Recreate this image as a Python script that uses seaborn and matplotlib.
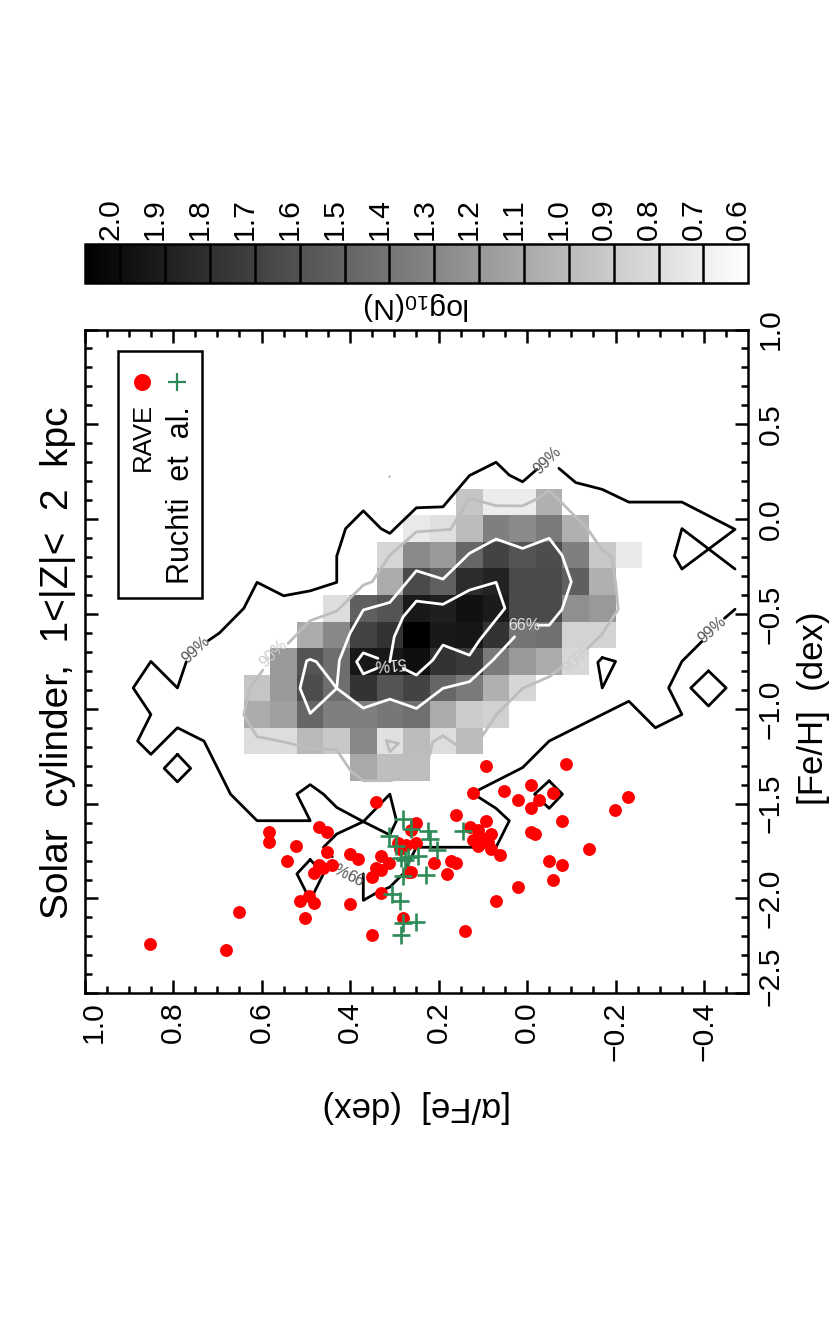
import numpy as np
import pandas as pd
import seaborn as sns
import matplotlib.pyplot as plt
from matplotlib.cm import ScalarMappable
from matplotlib.colors import Normalize
from matplotlib.patches import Rectangle

# log10(N) per bin, rows from high to low [Fe/H], columns from high to low [alpha/Fe]
alpha_edges = [0.64, -0.26]
feh_edges = [-1.38, 0.16]
n = np.nan
log_n = [
    [n, n, n, n, n, n, n, n, 0.94, 0.71, 0.71, 1.06, n, n, n],
    [n, n, n, n, n, n, 0.73, 0.79, 0.99, 1.34, 1.28, 1.37, 1.06, n, n],
    [n, n, n, n, n, 0.84, 1.28, 1.19, 1.49, 1.69, 1.59, 1.63, 1.34, 0.92, 0.73],
    [n, n, n, n, n, 1.09, 1.65, 1.52, 1.82, 1.88, 1.65, 1.65, 1.53, 1.06, n],
    [n, n, n, 0.80, 1.53, 1.59, 1.93, 1.90, 1.98, 1.92, 1.65, 1.65, 1.25, 1.19, n],
    [n, n, 1.09, 1.29, 1.69, 1.78, 2.08, 1.93, 1.95, 1.78, 1.40, 1.43, 0.86, 0.86, n],
    [n, 1.19, 1.59, 1.44, 1.94, 1.94, 1.99, 1.78, 1.74, 1.37, 1.19, 1.09, 0.83, n, n],
    [0.94, 1.19, 1.63, 1.44, 1.78, 1.59, 1.69, 1.49, 1.37, 1.06, 0.84, n, n, n, n],
    [1.09, 1.15, 1.49, 1.34, 1.34, 1.39, 1.43, 1.09, 0.90, 0.87, n, n, n, n, n],
    [0.80, 0.80, 1.01, 0.92, 1.29, 0.78, 0.99, 0.80, 0.99, n, n, n, n, n, n],
    [n, n, n, n, 1.10, 0.98, 0.98, n, n, n, n, n, n, n, n],
]

rave_alpha = [0.851, 0.681, 0.651, 0.582, 0.582, 0.522, 0.542, 0.471, 0.452, 0.452, 0.471, 0.461, 0.482,
              0.441, 0.512, 0.492, 0.482, 0.501, 0.401, 0.381, 0.401, 0.351, 0.341, 0.331, 0.311, 0.331,
              0.341, 0.351, 0.331, 0.281, 0.141, 0.292, 0.288, 0.273, 0.250, 0.262, 0.268, 0.211, 0.180,
              0.171, 0.160, 0.250, 0.262, 0.160, 0.092, -0.089, -0.009, 0.051, -0.058, 0.121, 0.021,
              -0.028, -0.009, -0.199, -0.229, 0.092, -0.079, 0.130, 0.111, -0.009, -0.019, 0.081, 0.122,
              0.107, 0.096, 0.111, 0.089, 0.081, 0.061, -0.139, -0.049, -0.079, -0.058, 0.021, 0.071]
rave_feh = [-2.242, -2.272, -2.073, -1.651, -1.701, -1.724, -1.801, -1.622, -1.651, -1.754, -1.824, -1.841, -1.864,
            -1.824, -2.013, -1.987, -2.022, -2.101, -1.764, -1.792, -2.031, -2.193, -1.493, -1.775, -1.812, -1.850,
            -1.841, -1.885, -1.973, -2.101, -2.172, -1.709, -1.739, -1.718, -1.709, -1.862, -1.861, -1.812, -1.873,
            -1.801, -1.812, -1.601, -1.641, -1.560, -1.302, -1.293, -1.402, -1.432, -1.443, -1.443, -1.481,
            -1.481, -1.525, -1.534, -1.464, -1.592, -1.592, -1.622, -1.639, -1.651, -1.662, -1.662, -1.692,
            -1.675, -1.687, -1.724, -1.701, -1.741, -1.771, -1.741, -1.801, -1.824, -1.903, -1.941, -2.012]

ruchti_alpha = [0.281, 0.262, 0.223, 0.220, 0.203, 0.145, 0.312, 0.296, 0.285, 0.268, 0.246, 0.275, 0.228, 0.281,
                0.306, 0.287, 0.281, 0.251, 0.285]
ruchti_feh = [-1.583, -1.634, -1.644, -1.689, -1.742, -1.643, -1.671, -1.724, -1.787, -1.782, -1.774, -1.797,
              -1.874, -1.882, -1.977, -2.012, -2.129, -2.123, -2.193]

# contour pieces as (alpha, feh), broken where a label sits
black_contours = [
    [(-0.022, 0.262), (0.01, 0.197), (0.04, 0.232), (0.07, 0.30), (0.13, 0.23), (0.19, 0.065), (0.25, 0.06),
     (0.31, -0.075), (0.33, -0.05), (0.37, 0.044), (0.41, -0.05), (0.43, -0.195), (0.43, -0.333), (0.49, -0.378),
     (0.55, -0.404), (0.61, -0.333), (0.64, -0.47), (0.695, -0.60), (0.72, -0.64)],
    [(0.77, -0.752), (0.79, -0.89), (0.85, -0.75), (0.89, -0.89), (0.85, -1.03), (0.88, -1.17), (0.85, -1.24),
     (0.79, -1.10), (0.73, -1.17), (0.67, -1.45), (0.61, -1.59), (0.49, -1.59), (0.52, -1.45), (0.49, -1.40),
     (0.46, -1.45), (0.43, -1.52), (0.37, -1.595), (0.31, -1.665), (0.295, -1.59), (0.31, -1.45), (0.37, -1.595),
     (0.43, -1.66), (0.46, -1.73), (0.44, -1.78)],
    [(0.37, -1.87), (0.37, -2.01), (0.34, -1.97), (0.31, -1.94), (0.28, -1.87), (0.25, -1.73), (0.07, -1.73),
     (0.04, -1.59), (0.07, -1.525), (0.12, -1.45), (0.107, -1.425), (0.01, -1.31), (-0.05, -1.17), (-0.23, -0.96),
     (-0.29, -1.10), (-0.35, -1.03), (-0.32, -0.89), (-0.35, -0.75), (-0.395, -0.645)],
    [(-0.446, -0.523), (-0.47, -0.475)],
    [(-0.47, -0.263), (-0.35, -0.05), (-0.333, -0.193), (-0.35, -0.263), (-0.47, -0.054), (-0.35, 0.09),
     (-0.23, 0.09), (-0.17, 0.157), (-0.11, 0.193), (-0.072, 0.268)],
    [(0.79, -1.24), (0.76, -1.314), (0.79, -1.385), (0.82, -1.314), (0.79, -1.24)],
    [(-0.41, -0.80), (-0.45, -0.89), (-0.41, -0.985), (-0.37, -0.89), (-0.41, -0.80)],
    [(-0.05, -1.38), (-0.08, -1.45), (-0.05, -1.525), (-0.017, -1.45), (-0.05, -1.38)],
    [(-0.17, -0.73), (-0.20, -0.75), (-0.17, -0.89), (-0.16, -0.755), (-0.17, -0.73)],
    [(0.49, -1.795), (0.52, -1.87), (0.49, -2.01), (0.46, -1.87), (0.49, -1.795)],
]
grey_contours = [
    [(0.54, -0.655), (0.49, -0.535), (0.43, -0.485), (0.37, -0.348), (0.35, -0.33), (0.31, -0.19), (0.25, -0.067),
     (0.173, -0.054), (0.13, 0.11), (0.07, 0.071), (0.01, 0.07), (-0.02, 0.104), (-0.05, 0.15), (-0.08, 0.083),
     (-0.137, -0.052), (-0.17, -0.163), (-0.19, -0.195), (-0.20, -0.33), (-0.206, -0.476), (-0.168, -0.611),
     (-0.137, -0.681)],
    [(-0.08, -0.778), (-0.05, -0.831), (0.01, -0.892), (0.07, -1.033), (0.107, -1.165), (0.126, -1.217),
     (0.16, -1.19), (0.19, -1.142), (0.213, -1.174), (0.224, -1.279), (0.25, -1.349), (0.31, -1.379), (0.37, -1.379),
     (0.397, -1.332), (0.43, -1.217), (0.49, -1.209), (0.55, -1.174), (0.61, -1.147), (0.64, -1.033), (0.627, -0.892),
     (0.597, -0.796)],
    [(0.318, -1.168), (0.29, -1.182), (0.31, -1.226), (0.318, -1.168)],
]
white_contours = [
    [(0.028, -0.62), (0.077, -0.743), (0.13, -0.857), (0.19, -0.892), (0.25, -0.998), (0.31, -0.949), (0.37, -0.996),
     (0.43, -0.892), (0.49, -1.024), (0.513, -0.892), (0.498, -0.747), (0.49, -0.739), (0.476, -0.752), (0.43, -0.892),
     (0.424, -0.743), (0.40, -0.602), (0.37, -0.479), (0.31, -0.439), (0.25, -0.272), (0.19, -0.316), (0.13, -0.18),
     (0.07, -0.105), (0.01, -0.154), (-0.05, -0.101), (-0.079, -0.19), (-0.10, -0.33), (-0.079, -0.476), (-0.05, -0.559),
     (-0.024, -0.559)],
    [(0.31, -0.752), (0.30, -0.62), (0.28, -0.515), (0.25, -0.432), (0.19, -0.449), (0.13, -0.374), (0.07, -0.333),
     (0.05, -0.47), (0.107, -0.637), (0.13, -0.717), (0.19, -0.664), (0.213, -0.743), (0.25, -0.822), (0.28, -0.787)],
    [(0.337, -0.734), (0.37, -0.705), (0.385, -0.752), (0.37, -0.816), (0.34, -0.787)],
]
contour_labels = [
    (0.748, -0.69, '99%', 43, '#555555'), (-0.046, 0.31, '99%', 45, '#555555'), (-0.419, -0.585, '99%', 42, '#555555'),
    (0.40, -1.854, '99%', 154, '#555555'), (0.574, -0.706, '90%', 45, '#cccccc'), (-0.111, -0.74, '90%', 45, '#cccccc'),
    (0.006, -0.559, '66%', 0, '#e0e0e0'), (0.31, -0.759, '51%', 185, '#e8e8e8'),
]

alpha_ticks = [1.0, 0.8, 0.6, 0.4, 0.2, 0.0, -0.2, -0.4]
feh_ticks = [-2.5, -2.0, -1.5, -1.0, -0.5, 0.0, 0.5, 1.0]
cbar_ticks = [2.0, 1.9, 1.8, 1.7, 1.6, 1.5, 1.4, 1.3, 1.2, 1.1, 1.0, 0.9, 0.8, 0.7, 0.6]

sns.set_theme(style="ticks", rc={"text.color": "black", "axes.edgecolor": "black", "xtick.color": "black",
                                 "ytick.color": "black", "axes.linewidth": 1.8})
plt.rcParams['font.family'] = ['Liberation Sans', 'DejaVu Sans']
plt.rcParams['mathtext.default'] = 'regular'

W, H = 830, 1329
fig = plt.figure(figsize=(W / 100, H / 100), dpi=100, facecolor='white')
ax = fig.add_axes([84.5 / W, 1 - 993.3 / H, 663.8 / W, 663.8 / H])
ax.set_xlim(1.0, -0.5)
ax.set_ylim(-2.5, 1.0)
ax.autoscale(False)

# density grid in its own box so that seaborn can keep its cell layout
hm_ax = ax.inset_axes([(1.0 - alpha_edges[0]) / 1.5, (feh_edges[0] + 2.5) / 3.5,
                       (alpha_edges[0] - alpha_edges[1]) / 1.5, (feh_edges[1] - feh_edges[0]) / 3.5], zorder=0)
sns.heatmap(pd.DataFrame(log_n), ax=hm_ax, cmap='gray_r', vmin=0.6, vmax=2.08, cbar=False,
            xticklabels=False, yticklabels=False)
hm_ax.set_axis_off()

for seg in grey_contours:
    xs, ys = zip(*seg)
    sns.lineplot(x=list(xs), y=list(ys), sort=False, estimator=None, color='#bdbdbd', lw=2.0, ax=ax, zorder=2)
for seg in black_contours:
    xs, ys = zip(*seg)
    sns.lineplot(x=list(xs), y=list(ys), sort=False, estimator=None, color='black', lw=2.0, ax=ax, zorder=2)
for seg in white_contours:
    xs, ys = zip(*seg)
    sns.lineplot(x=list(xs), y=list(ys), sort=False, estimator=None, color='white', lw=2.0, ax=ax, zorder=2)
for a, f, s, rot, col in contour_labels:
    ax.text(a, f, s, rotation=rot, color=col, fontsize=11.5, ha='center', va='center', rotation_mode='anchor', zorder=3)

sns.scatterplot(x=rave_alpha, y=rave_feh, color='red', s=86, linewidth=0, ax=ax, zorder=4)
sns.scatterplot(x=ruchti_alpha, y=ruchti_feh, color='seagreen', marker='+', s=165, linewidth=1.9, ax=ax, zorder=5)
ax.scatter([0.311], [0.227], s=2, color='#999999', linewidth=0)

# legend box, rotated with the rest of the page
ax.add_patch(Rectangle((0.735, -0.417), 0.19, 1.306, fc='none', ec='black', lw=1.8, zorder=6))
ax.scatter([0.869], [0.722], s=150, color='red', linewidth=0, zorder=6)
ax.scatter([0.792], [0.722], s=165, color='seagreen', marker='+', linewidth=1.6, zorder=6)
ax.text(0.869, 0.615, 'RAVE', rotation=90, ha='center', va='top', fontsize=18.5, zorder=6)
ax.text(0.783, 0.595, 'Ruchti  et  al.', rotation=90, ha='center', va='top', fontsize=22, zorder=6)

ax.set_xticks(alpha_ticks)
ax.set_yticks(feh_ticks)
ax.set_xticks([v / 100 for v in range(-45, 100, 5)], minor=True)
ax.set_yticks([v / 10 for v in range(-24, 10)], minor=True)
ax.tick_params(which='both', direction='in', top=True, right=True, labelbottom=False, labelleft=False, width=1.8)
ax.tick_params(which='major', length=9.4)
ax.tick_params(which='minor', length=4.7)
for spine in ax.spines.values():
    spine.set_visible(True)
    spine.set_linewidth(1.8)

for v in alpha_ticks:
    label = f'{v:.1f}'.replace('-', '\u2212')
    dx = 7 if v == 1.0 else 0
    ax.annotate(label, (v, 0), xycoords=('data', 'axes fraction'), xytext=(dx, -6), textcoords='offset points',
                rotation=90, ha='center', va='top', fontsize=21.7)
for v in feh_ticks:
    label = f'{v:.1f}'.replace('-', '\u2212')
    dy = 12 if v == -2.5 else 0
    ax.annotate(label, (1, v), xycoords=('axes fraction', 'data'), xytext=(6, dy), textcoords='offset points',
                rotation=90, ha='left', va='center', fontsize=21.7)

fig.text(417 / W, 1 - 1107 / H, '[\u03b1/Fe]  (dex)', rotation=180, ha='center', va='center', fontsize=25)
fig.text(813 / W, 1 - 708 / H, '[Fe/H]  (dex)', rotation=90, ha='center', va='center', fontsize=25)
fig.text(58 / W, 1 - 663 / H, 'Solar  cylinder,  1<|Z|<  2  kpc', rotation=90, ha='center', va='center', fontsize=28)

# colour bar
cax = fig.add_axes([84.5 / W, 1 - 282.7 / H, 663.8 / W, 39.2 / H])
cb = fig.colorbar(ScalarMappable(Normalize(0.6, 2.08), 'gray_r'), cax=cax, orientation='horizontal')
cb.set_ticks([])
cax.set_xlim(2.08, 0.6)
cax.minorticks_off()
cax.vlines(cbar_ticks[:-1], 0, 1, transform=cax.get_xaxis_transform(), color='black', lw=1.8)
cb.outline.set_linewidth(1.8)
cb.outline.set_edgecolor('black')
for v in cbar_ticks:
    cax.annotate(f'{v:.1f}', (v, 1), xycoords=('data', 'axes fraction'), xytext=(-7.2, 2.5), textcoords='offset points',
                 rotation=90, ha='center', va='bottom', fontsize=21.7)
fig.text(417 / W, 1 - 306 / H, 'log$_{10}$(N)', rotation=180, ha='center', va='center', fontsize=21.7)

fig.savefig('out.png', dpi=100, facecolor='white')
